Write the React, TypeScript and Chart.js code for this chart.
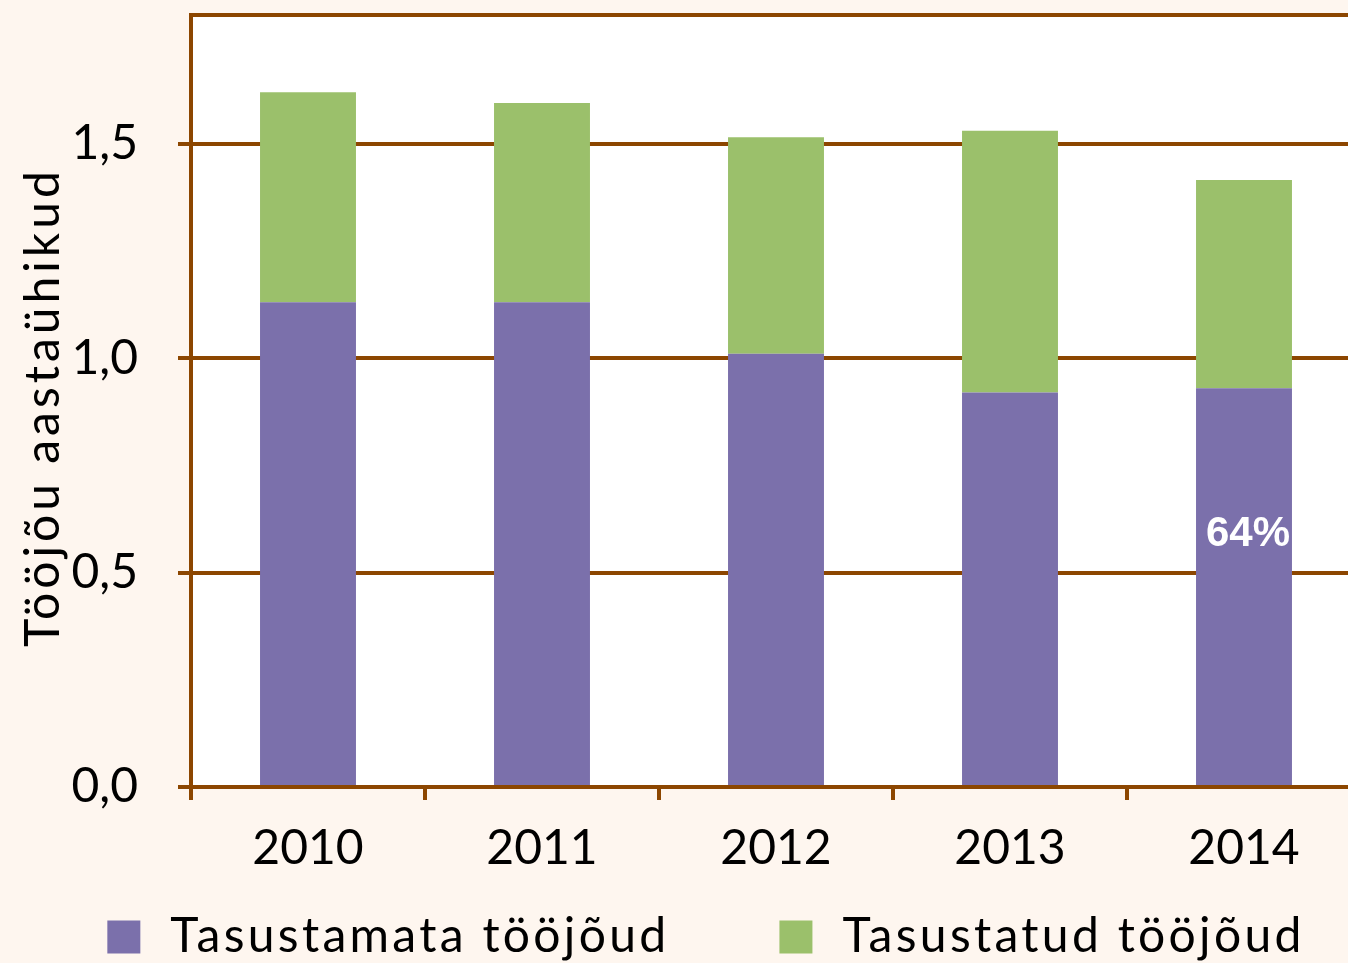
import React, { useEffect, useRef } from 'react';
import { Chart, registerables } from 'chart.js';
Chart.register(...registerables);

const years = ['2010', '2011', '2012', '2013', '2014'];
const unpaidLabour = [1.13, 1.13, 1.01, 0.92, 0.93];
const paidLabour = [0.49, 0.465, 0.505, 0.61, 0.485];
const seriesNames = ['Tasustamata tööjõud', 'Tasustatud tööjõud'];
const yTickValues = [0, 0.5, 1.0, 1.5];
const yMax = 1.8;
const yTitle = 'Tööjõu aastaühikud';
const noteText = '64%';
const noteIndex = 4;
const noteValue = 0.59;

const PURPLE = '#7B70AB';
const GREEN = '#9BC06B';
const BROWN = '#8C4600';
const CREAM = '#FEF6EF';
const FONT = 'Lato';

const bgPlugin = {
  id: 'bg',
  beforeDraw(chart: any) {
    const { ctx, chartArea } = chart;
    ctx.save();
    ctx.fillStyle = '#FFFFFF';
    ctx.fillRect(chartArea.left, chartArea.top, chartArea.right - chartArea.left, chartArea.bottom - chartArea.top);
    ctx.restore();
  },
};

const notePlugin = {
  id: 'note',
  afterDatasetsDraw(chart: any) {
    const { ctx } = chart;
    const bar = chart.getDatasetMeta(0).data[noteIndex];
    if (!bar) return;
    ctx.save();
    ctx.font = 'bold 42px "Liberation Sans"';
    ctx.fillStyle = '#FFFFFF';
    ctx.textAlign = 'center';
    ctx.textBaseline = 'middle';
    ctx.fillText(noteText, bar.x + 4, chart.scales.y.getPixelForValue(noteValue));
    ctx.restore();
  },
};

const yTitlePlugin = {
  id: 'yTitle',
  afterDraw(chart: any) {
    const { ctx, chartArea } = chart;
    ctx.save();
    ctx.font = `48px ${FONT}`;
    (ctx as any).letterSpacing = '4px';
    ctx.fillStyle = '#000000';
    ctx.textAlign = 'center';
    ctx.textBaseline = 'middle';
    ctx.translate(44, (chartArea.top + chartArea.bottom) / 2 + 6);
    ctx.rotate(-Math.PI / 2);
    ctx.fillText(yTitle, 0, 0);
    ctx.restore();
  },
};

const legendPlugin = {
  id: 'customLegend',
  afterDraw(chart: any) {
    const { ctx } = chart;
    const colors = [PURPLE, GREEN];
    const box = 33;
    const textGap = 30;
    const itemGap = 110;
    const centerX = 706;
    const midY = 937;
    ctx.save();
    ctx.font = `48px ${FONT}`;
    (ctx as any).letterSpacing = '3.3px';
    const widths = seriesNames.map((n) => ctx.measureText(n).width);
    const total = widths.reduce((a, w) => a + box + textGap + w, 0) + itemGap * (seriesNames.length - 1);
    let x = centerX - total / 2;
    seriesNames.forEach((name, i) => {
      ctx.fillStyle = colors[i];
      ctx.fillRect(x, midY - box / 2, box, box);
      ctx.fillStyle = '#000000';
      ctx.textAlign = 'left';
      ctx.textBaseline = 'middle';
      ctx.fillText(name, x + box + textGap, midY);
      x += box + textGap + widths[i] + itemGap;
    });
    ctx.restore();
  },
};

export default function App() {
  const ref = useRef<HTMLCanvasElement>(null);
  useEffect(() => {
    const canvas = ref.current!;
    const chart = new Chart(canvas, {
      type: 'bar',
      data: {
        labels: years,
        datasets: [
          { label: seriesNames[0], data: unpaidLabour, backgroundColor: PURPLE, stack: 's', categoryPercentage: 1, barPercentage: 0.41 },
          { label: seriesNames[1], data: paidLabour, backgroundColor: GREEN, stack: 's', categoryPercentage: 1, barPercentage: 0.41 },
        ],
      },
      options: {
        responsive: false,
        maintainAspectRatio: false,
        animation: false,
        layout: { padding: { top: 15, left: 0, right: 19, bottom: 76 } },
        plugins: { legend: { display: false }, tooltip: { enabled: false } },
        scales: {
          x: {
            stacked: true,
            grid: { offset: true, drawOnChartArea: false, drawTicks: true, tickLength: 13, color: BROWN, lineWidth: 4 },
            border: { display: true, color: BROWN, width: 4 },
            ticks: { color: '#000000', font: { family: FONT, size: 48 }, padding: 20, maxRotation: 0, autoSkip: false },
            afterFit: (s: any) => { s.height = 100; s.paddingLeft = 0; s.paddingRight = 0; },
          },
          y: {
            stacked: true,
            min: 0,
            max: yMax,
            afterBuildTicks: (s: any) => { s.ticks = [...yTickValues, yMax].map((v) => ({ value: v })); },
            ticks: {
              color: '#000000',
              font: { family: FONT, size: 48 },
              padding: 40,
              callback: (v: any) => (yTickValues.includes(v) ? Number(v).toFixed(1).replace('.', ',') : ''),
            },
            grid: {
              color: BROWN,
              lineWidth: 4,
              tickLength: 13,
              tickColor: (c: any) => (c.tick && c.tick.value === yMax ? 'rgba(0,0,0,0)' : BROWN),
            },
            border: { display: true, color: BROWN, width: 4 },
            title: { display: false },
            afterFit: (s: any) => { s.width = 191; s.paddingTop = 0; s.paddingBottom = 0; },
          },
        },
      },
      plugins: [bgPlugin, notePlugin, yTitlePlugin, legendPlugin],
    });
    return () => chart.destroy();
  }, []);

  return (
    <div style={{ position: 'fixed', left: 0, top: 0, width: 1348, height: 963, overflow: 'hidden', background: CREAM }}>
      <canvas ref={ref} width={1380} height={963} style={{ display: 'block' }} />
    </div>
  );
}
